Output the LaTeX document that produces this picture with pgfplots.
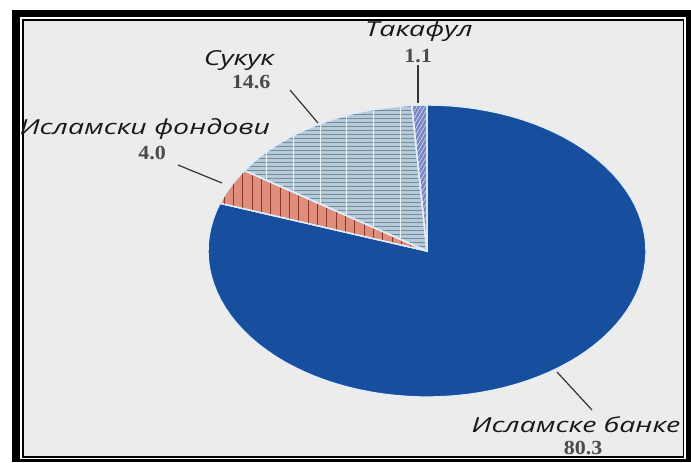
\documentclass[border=0pt]{standalone}
\usepackage{pgfplots}
\usepackage{pgfplotstable}
\pgfplotsset{compat=1.18}
\usetikzlibrary{patterns.meta}
\usepackage{fontspec}
\setmainfont{Liberation Serif}
\newfontfamily\labfont{Open Sans}

\definecolor{bankblue}{RGB}{24,78,158}
\definecolor{fundred}{RGB}{222,142,122}
\definecolor{fundline}{RGB}{140,55,45}
\definecolor{sukuk}{RGB}{182,203,218}
\definecolor{sukukline}{RGB}{120,140,158}
\definecolor{takaful}{RGB}{120,132,196}
\definecolor{edge}{RGB}{225,238,250}
\definecolor{bg}{RGB}{236,236,236}
\definecolor{numgray}{RGB}{75,75,75}

% shares in percent, clockwise from 12 o'clock
\pgfplotstableread{
share
80.3
4.0
14.6
1.1
}\pieshares

\pgfplotstablegetelem{0}{share}\of\pieshares \let\sA\pgfplotsretval
\pgfplotstablegetelem{1}{share}\of\pieshares \let\sB\pgfplotsretval
\pgfplotstablegetelem{2}{share}\of\pieshares \let\sC\pgfplotsretval
\pgfplotstablegetelem{3}{share}\of\pieshares \let\sD\pgfplotsretval
\pgfmathsetmacro\aA{90-3.6*\sA}
\pgfmathsetmacro\aB{\aA-3.6*\sB}
\pgfmathsetmacro\aC{\aB-3.6*\sC}
\pgfmathsetmacro\aD{\aC-3.6*\sD}

\begin{document}
\begin{tikzpicture}
\begin{axis}[
    width=518.25pt, height=346.5pt,
    scale only axis,
    xmin=0, xmax=691, ymin=0, ymax=462,
    hide axis,
    clip=false,
    samples=90,
    variable=\t,
]
% frame
\fill[white] (0,0) rectangle (691,462);
\fill[black] (12,0) rectangle (691,452);
\fill[white] (20,3) rectangle (686,445);
\fill[black] (22,4) rectangle (684,443);
\fill[bg] (23.5,6) rectangle (683,441);

% slices
\addplot[draw=edge, line width=1pt, fill=bankblue, domain=\aA:90]
    ({427+219*cos(\t)}, {211+146*sin(\t)}) -- (427,211) -- cycle;
\addplot[draw=edge, line width=1pt, fill=fundred,
    postaction={pattern={Lines[angle=90, distance=7pt, line width=0.7pt]}, pattern color=fundline},
    domain=\aB:\aA]
    ({427+219*cos(\t)}, {211+146*sin(\t)}) -- (427,211) -- cycle;
\addplot[draw=edge, line width=1pt, fill=sukuk,
    postaction={pattern={Lines[angle=0, distance=3pt, line width=0.4pt]}, pattern color=sukukline},
    postaction={pattern={Lines[angle=90, distance=20pt, line width=0.5pt]}, pattern color=white!80!sukuk},
    domain=\aC:\aB]
    ({427+219*cos(\t)}, {211+146*sin(\t)}) -- (427,211) -- cycle;
\addplot[draw=edge, line width=1pt, fill=takaful,
    postaction={pattern={Lines[angle=60, distance=2.5pt, line width=0.5pt]}, pattern color=white!70!takaful},
    domain=\aD:\aC]
    ({427+219*cos(\t)}, {211+146*sin(\t)}) -- (427,211) -- cycle;

% leader lines
\draw[black!80, line width=0.9pt] (418,397) -- (418,359);
\draw[black!80, line width=0.9pt] (290,372) -- (318,339);
\draw[black!80, line width=0.9pt] (178,297) -- (222,279);
\draw[black!80, line width=0.9pt] (557,90) -- (592,52);

% labels
\tikzset{lab/.style={xscale=1.38, inner sep=0pt, font=\labfont\itshape\fontsize{15.5}{17}\selectfont, text=black!90},
         num/.style={xscale=1.1, inner sep=0pt, font=\bfseries\fontsize{15}{17}\selectfont, text=numgray}}
\node[lab] at (419,431) {Такафул};
\node[num] at (418,406) {1.1};
\node[lab] at (239,401) {Сукук};
\node[num] at (251,380) {14.6};
\node[lab] at (145,333) {Исламски фондови};
\node[num] at (152,309) {4.0};
\node[lab] at (576,37) {Исламске банке};
\node[num] at (583,14) {80.3};
\end{axis}
\end{tikzpicture}
\end{document}
